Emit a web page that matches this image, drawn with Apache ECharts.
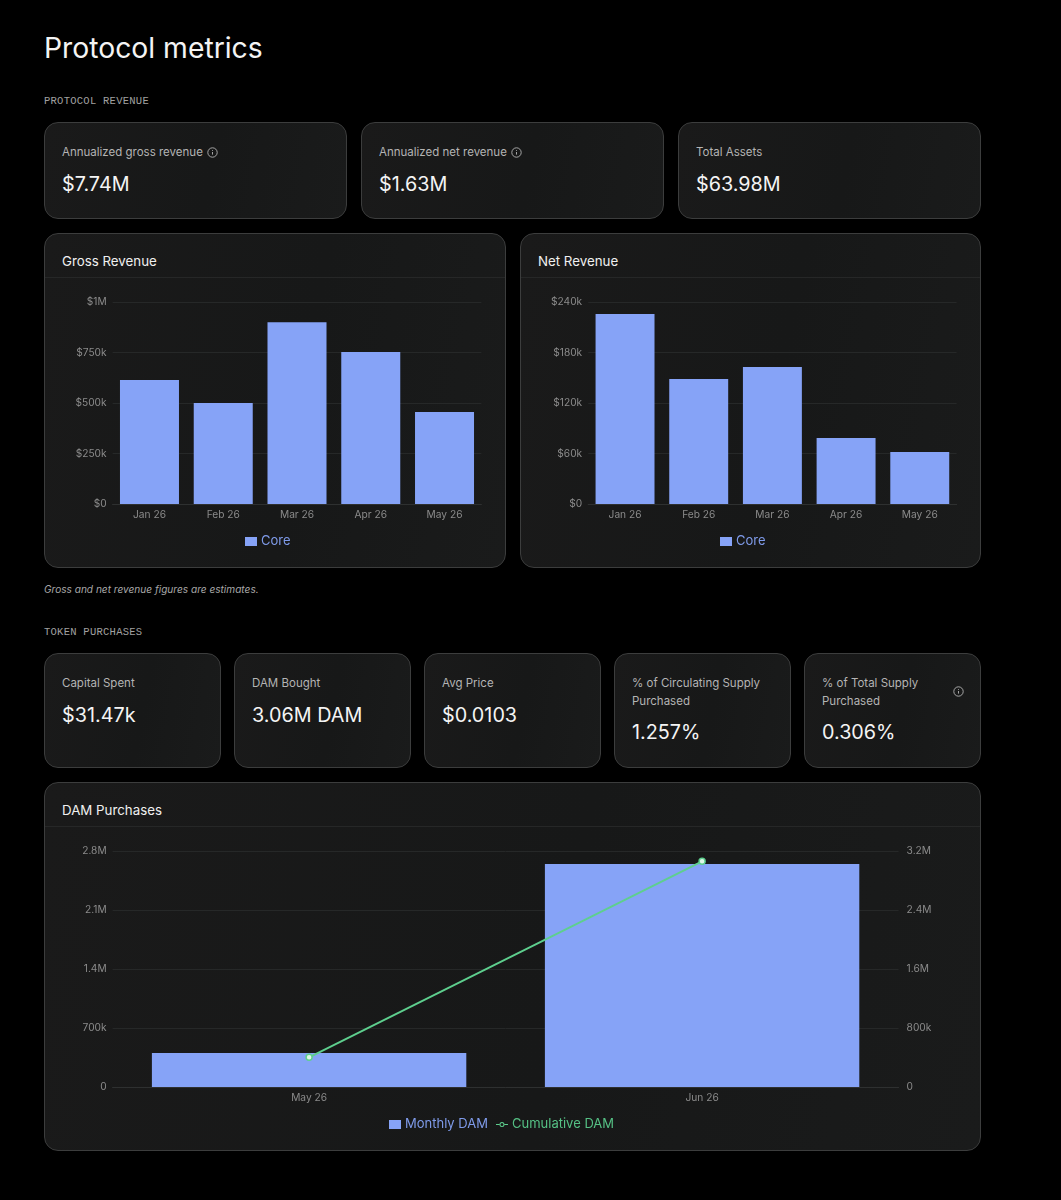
<!DOCTYPE html>
<html><head><meta charset="utf-8">
<script src="https://cdn.jsdelivr.net/npm/echarts@6/dist/echarts.min.js"></script>
<style>
html,body{margin:0;padding:0;background:#000;}
body{width:1061px;height:1200px;position:relative;overflow:hidden;font-family:Inter,sans-serif;color:#f2f2f2;}
.abs{position:absolute;}
.title{left:44px;top:29px;font-size:28.3px;line-height:38px;font-weight:400;color:#f4f4f4;white-space:nowrap;}
.sec{left:44px;font-family:"Liberation Mono",monospace;font-size:10.5px;line-height:12px;letter-spacing:.26px;color:#a0a0a0;white-space:nowrap;}
.card{position:absolute;box-sizing:border-box;border:1px solid #3c3d3d;border-radius:14px;background:linear-gradient(100deg,#1a1a1a 0%,#171818 55%,#1a1b1b 100%);}
.lab{position:absolute;left:17px;font-size:11.5px;line-height:18px;color:#b4b4b4;white-space:nowrap;}
.val{position:absolute;left:17px;font-size:19.8px;line-height:26px;color:#f4f4f4;white-space:nowrap;}
.ct{position:absolute;left:17px;top:17px;font-size:13.3px;line-height:20px;color:#f0f0f0;}
.hr{position:absolute;left:0;right:0;top:43px;height:1px;background:#262727;}
.foot{left:44px;top:582px;font-size:10.1px;line-height:14px;font-style:italic;color:#a8a8a8;white-space:nowrap;}
svg.i{position:absolute;width:11px;height:11px;}
.chart{position:absolute;}
</style></head><body>
<div class="abs title">Protocol metrics</div>
<div class="abs sec" style="top:95px">PROTOCOL REVENUE</div>
<div id="row1"></div>
<div class="card" style="left:44px;top:233px;width:462px;height:335px"><div class="ct">Gross Revenue</div><div class="hr"></div></div>
<div class="card" style="left:520px;top:233px;width:461px;height:335px"><div class="ct">Net Revenue</div><div class="hr"></div></div>
<div class="chart" id="gross" style="left:44px;top:278px;width:461px;height:289px"></div>
<div class="chart" id="net" style="left:520px;top:278px;width:461px;height:289px"></div>
<div class="abs foot">Gross and net revenue figures are estimates.</div>
<div class="abs sec" style="top:626px">TOKEN PURCHASES</div>
<div id="row2"></div>
<div class="card" style="left:44px;top:782px;width:937px;height:369px"><div class="ct">DAM Purchases</div><div class="hr"></div></div>
<div class="chart" id="dam" style="left:44px;top:827px;width:937px;height:323px"></div>
<script>
var revenueMonths = ['Jan 26','Feb 26','Mar 26','Apr 26','May 26'];
var grossCore = [614000,500000,900000,752000,455000];
var netCore = [225700,148500,162800,78400,61800];
var damMonths = ['May 26','Jun 26'];
var monthlyDam = [403000,2646000];
var cumulativeDam = [403000,3060000];

var infoIcon = function(style){return '<svg class="i" style="'+style+'" viewBox="0 0 11 11"><circle cx="5.5" cy="5.5" r="4.7" fill="none" stroke="#b4b4b4" stroke-width=".9"/><path d="M5.5 5v2.6M5.5 3.2v.8" stroke="#b4b4b4" stroke-width=".9"/></svg>';};
var row1 = [
 {x:44,w:303,l:'Annualized gross revenue',v:'$7.74M',icon:'left:162px;top:24px'},
 {x:361,w:303,l:'Annualized net revenue',v:'$1.63M',icon:'left:149px;top:24px'},
 {x:678,w:303,l:'Total Assets',v:'$63.98M'}
];
document.getElementById('row1').innerHTML = row1.map(function(c){
 return '<div class="card" style="left:'+c.x+'px;top:122px;width:'+c.w+'px;height:97px"><div class="lab" style="top:20px">'+c.l+'</div><div class="val" style="top:48px">'+c.v+'</div>'+(c.icon?infoIcon(c.icon):'')+'</div>';
}).join('');
var row2 = [
 {x:44,l:'Capital Spent',v:'$31.47k'},
 {x:234,l:'DAM Bought',v:'3.06M DAM'},
 {x:424,l:'Avg Price',v:'$0.0103'},
 {x:614,l:'% of Circulating Supply<br>Purchased',v:'1.257%',two:1},
 {x:804,l:'% of Total Supply<br>Purchased',v:'0.306%',two:1,icon:'left:148px;top:32px'}
];
document.getElementById('row2').innerHTML = row2.map(function(c){
 return '<div class="card" style="left:'+c.x+'px;top:653px;width:177px;height:115px"><div class="lab" style="top:20px">'+c.l+'</div><div class="val" style="top:'+(c.two?65:48)+'px">'+c.v+'</div>'+(c.icon?infoIcon(c.icon):'')+'</div>';
}).join('');

var BLUE='#86a3f7', GREEN='#5ecf8e', GRID='#262828', TICK='#8b8b8b', FF='Inter';
function fmtUsd(v){ if(v===0) return '$0'; if(v>=1e6) return '$'+v/1e6+'M'; return '$'+v/1000+'k'; }
function fmtNum(v){ if(v===0) return '0'; if(v>=1e6) return v/1e6+'M'; return v/1000+'k'; }
function valueAxis(max,interval,fmt,pos,showGrid){
 return {type:'value',position:pos,min:0,max:max,interval:interval,
  axisLine:{show:false},axisTick:{show:false},
  splitLine:{show:showGrid,lineStyle:{color:GRID,width:1}},
  axisLabel:{formatter:fmt,color:TICK,fontFamily:FF,fontSize:10.2,margin:pos==='left'?6:8,padding:[5,0,0,0]}};
}
function catAxis(cats){
 return {type:'category',data:cats,axisTick:{show:false},
  axisLine:{lineStyle:{color:'#2e3030',width:1}},
  axisLabel:{color:TICK,fontFamily:FF,fontSize:10.2,margin:6}};
}
function revenueChart(id,vals,max,interval,gl,gr,ll){
 var c=echarts.init(document.getElementById(id),null,{renderer:'canvas'});
 c.setOption({animation:false,backgroundColor:'transparent',
  grid:{left:gl,right:gr,top:24,bottom:63,containLabel:false},
  xAxis:catAxis(revenueMonths),
  yAxis:valueAxis(max,interval,fmtUsd,'left',true),
  legend:{left:ll,top:257,padding:0,itemWidth:12,itemHeight:9,icon:'rect',itemGap:8,
   textStyle:{color:'#7f9bea',fontFamily:FF,fontSize:13,padding:[0,0,0,-1]},data:['Core']},
  series:[{name:'Core',type:'bar',data:vals,barWidth:'80%',itemStyle:{color:BLUE}}]});
}
revenueChart('gross',grossCore,1000000,250000,68.6,23.6,201);
revenueChart('net',netCore,240000,60000,68.2,24.4,200);
var d=echarts.init(document.getElementById('dam'),null,{renderer:'canvas'});
d.setOption({animation:false,backgroundColor:'transparent',
 grid:{left:68.6,right:82.4,top:24,bottom:63},
 xAxis:catAxis(damMonths),
 yAxis:[valueAxis(2800000,700000,fmtNum,'left',true),valueAxis(3200000,800000,fmtNum,'right',false)],
 legend:{left:345,top:291,padding:0,itemWidth:12,itemHeight:9,itemGap:8,
  textStyle:{fontFamily:FF,fontSize:13,padding:[0,0,0,-1]},
  data:[{name:'Monthly DAM',icon:'rect',textStyle:{color:'#7f9bea'}},
   {name:'Cumulative DAM',textStyle:{color:'#55c084'},itemStyle:{color:GREEN,borderWidth:0},
    icon:'path://M0 4H3.4V5H0ZM6 2A2.5 2.5 0 1 1 6 7A2.5 2.5 0 1 1 6 2ZM6 3A1.5 1.5 0 1 0 6 6A1.5 1.5 0 1 0 6 3ZM8.6 4H12V5H8.6Z'}]},
 series:[
  {name:'Monthly DAM',type:'bar',yAxisIndex:0,data:monthlyDam,barWidth:'80%',itemStyle:{color:BLUE}},
  {name:'Cumulative DAM',type:'line',yAxisIndex:1,data:cumulativeDam,symbol:'circle',symbolSize:6,showSymbol:true,
   lineStyle:{color:GREEN,width:1.9},itemStyle:{color:'#dff7e8',borderColor:GREEN,borderWidth:1.5}}
 ]});
</script>
</body></html>
